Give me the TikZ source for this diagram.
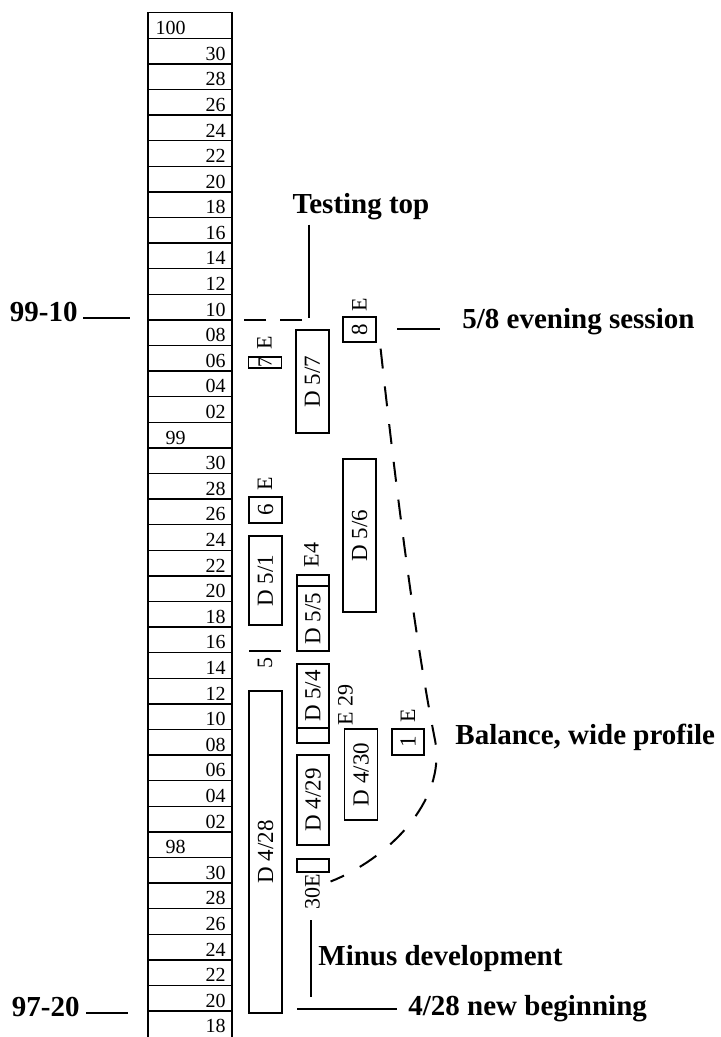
\documentclass[tikz,border=0pt]{standalone}
\usepackage{graphicx}
\usepackage{fontspec}
\setmainfont{Liberation Serif}
\usetikzlibrary{calc}

\begin{document}
\begin{tikzpicture}[x=0.5pt,y=-0.5pt,
  colnum/.style={font=\fontsize{10}{11}\selectfont,inner sep=0pt,anchor=east},
  box/.style={draw,line width=0.6pt,inner sep=0pt,minimum width=16.5pt,font=\fontsize{11.5}{12}\selectfont},
  tag/.style={inner sep=0pt,font=\fontsize{11}{12}\selectfont},
  lbl/.style={inner sep=0pt,font=\bfseries\fontsize{14.5}{16}\selectfont},
  lline/.style={line width=1pt},
  curve/.style={line width=1pt,dash pattern=on 10pt off 9pt}]
\useasboundingbox (0,0) rectangle (720,1037);
% ladder of dates
\draw[line width=0.75pt] (148,1037) -- (148,12.7) -- (232,12.7) -- (232,1037);
\foreach \i in {1,...,39}
  \draw[line width=0.75pt] (148,{12.7+25.6*\i}) -- (232,{12.7+25.6*\i});
\foreach \t/\x [count=\i from 0] in {100/186,30/226,28/226,26/226,24/226,22/226,20/226,18/226,16/226,14/226,12/226,10/226,08/226,06/226,04/226,02/226,
  99/186,30/226,28/226,26/226,24/226,22/226,20/226,18/226,16/226,14/226,12/226,10/226,08/226,06/226,04/226,02/226,
  98/186,30/226,28/226,26/226,24/226,22/226,20/226,18/226}
  \node[colnum] (r\i) at (\x,{28+25.6*\i}) {\t};

% sessions
\node[box,minimum height=5.5pt,font=\fontsize{10}{11}\selectfont] (b7) at (265,362.5) {\rotatebox{90}{7}};
\node[tag] (e7) at (264.5,343) {\rotatebox{90}{E}};
\node[box,minimum height=51.5pt] (d57) at (312.5,381.5) {\rotatebox{90}{D 5/7}};
\node[box,minimum height=12.5pt] (b8) at (359.5,329.5) {\rotatebox{90}{8}};
\node[tag] (e8) at (359.5,305) {\rotatebox{90}{E}};
\node[box,minimum height=13pt] (b6) at (265.5,510) {\rotatebox{90}{6}};
\node[tag] (e6) at (265,484) {\rotatebox{90}{E}};
\node[box,minimum height=44.5pt] (d51) at (265.5,580.5) {\rotatebox{90}{D 5/1}};
\node[tag] (e4) at (311.5,555) {\rotatebox{90}{E4}};
\node[box,minimum width=16pt,minimum height=5.5pt] (b4) at (313,580.5) {};
\node[box,minimum width=16pt,minimum height=32.5pt] (d55) at (313,618.5) {\rotatebox{90}{D 5/5}};
\node[box,minimum height=76.5pt] (d56) at (359.5,535.5) {\rotatebox{90}{D 5/6}};
\draw[line width=1pt] (249,651) -- (281,651);
\node[tag] (t5) at (265,663) {\rotatebox{90}{5}};
\node[box,minimum width=16pt,minimum height=32pt] (d54) at (313,696) {\rotatebox{90}{D 5/4}};
\node[box,minimum width=16pt,minimum height=7.5pt] (b29) at (313,735.5) {};
\node[tag] (e29) at (345.5,705) {\rotatebox{90}{E 29}};
\node[box,minimum height=45.5pt] (d430) at (361,774.5) {\rotatebox{90}{D 4/30}};
\node[box,minimum width=16pt,minimum height=13pt] (b1) at (408,742) {\rotatebox{90}{1}};
\node[tag] (e1) at (408,716) {\rotatebox{90}{E}};
\node[box,minimum height=161pt] (d428) at (265.5,852) {\rotatebox{90}{D 4/28}};
\node[box,minimum width=16pt,minimum height=45pt] (d429) at (313,800) {\rotatebox{90}{D 4/29}};
\node[box,minimum width=16pt,minimum height=6.5pt] (b30) at (313,865.5) {};
\node[tag] (e30) at (312.5,892) {\rotatebox{90}{30E}};

% labels
\node[lbl,anchor=east] (y9910) at (78,312) {99-10};
\coordinate (c9910) at (130,318);
\draw[lline] (y9910.east |- c9910) ++(5,0) -- (c9910);
\node[lbl,anchor=east] (y9720) at (80,1007) {97-20};
\coordinate (c9720) at (128,1013);
\draw[lline] (y9720.east |- c9720) ++(6,0) -- (c9720);

\node[lbl] (ttop) at (361,207) {Testing top};
\coordinate (ctop) at (309,318);
\coordinate (cdash) at (242,320);
\draw[line width=1.2pt] (ttop.south -| ctop) ++(0,4) -- (ctop);
\draw[lline,dash pattern=on 11pt off 7pt] (ctop) ++(-7,2) -- (cdash);

\node[lbl,anchor=west] (e58) at (462,322) {5/8 evening session};
\coordinate (c58) at (397,329);
\draw[lline] (c58) -- ($(c58 -| e58.west)+(-22,0)$);

\node[lbl,anchor=west] (bal) at (455,737) {Balance, wide profile};

\node[lbl,anchor=west] (minus) at (318,959) {Minus development};
\coordinate (cm1) at (311,920);
\coordinate (cm2) at (311,997);
\draw[line width=1.2pt] (cm1) -- (cm2);

\node[lbl,anchor=west] (nb) at (408,1009) {4/28 new beginning};
\coordinate (c428) at (297,1009);
\draw[lline] (c428) -- ($(c428 -| nb.west)+(-11,0)$);

% the swing from 8 back to 30
\draw[curve] ([shift={(4,6)}]b8.south east) .. controls (395,480) and (415,640) .. (435,740)
  .. controls (447,803) and (385,860) .. ([shift={(1,16)}]b30.east);
\end{tikzpicture}
\end{document}
